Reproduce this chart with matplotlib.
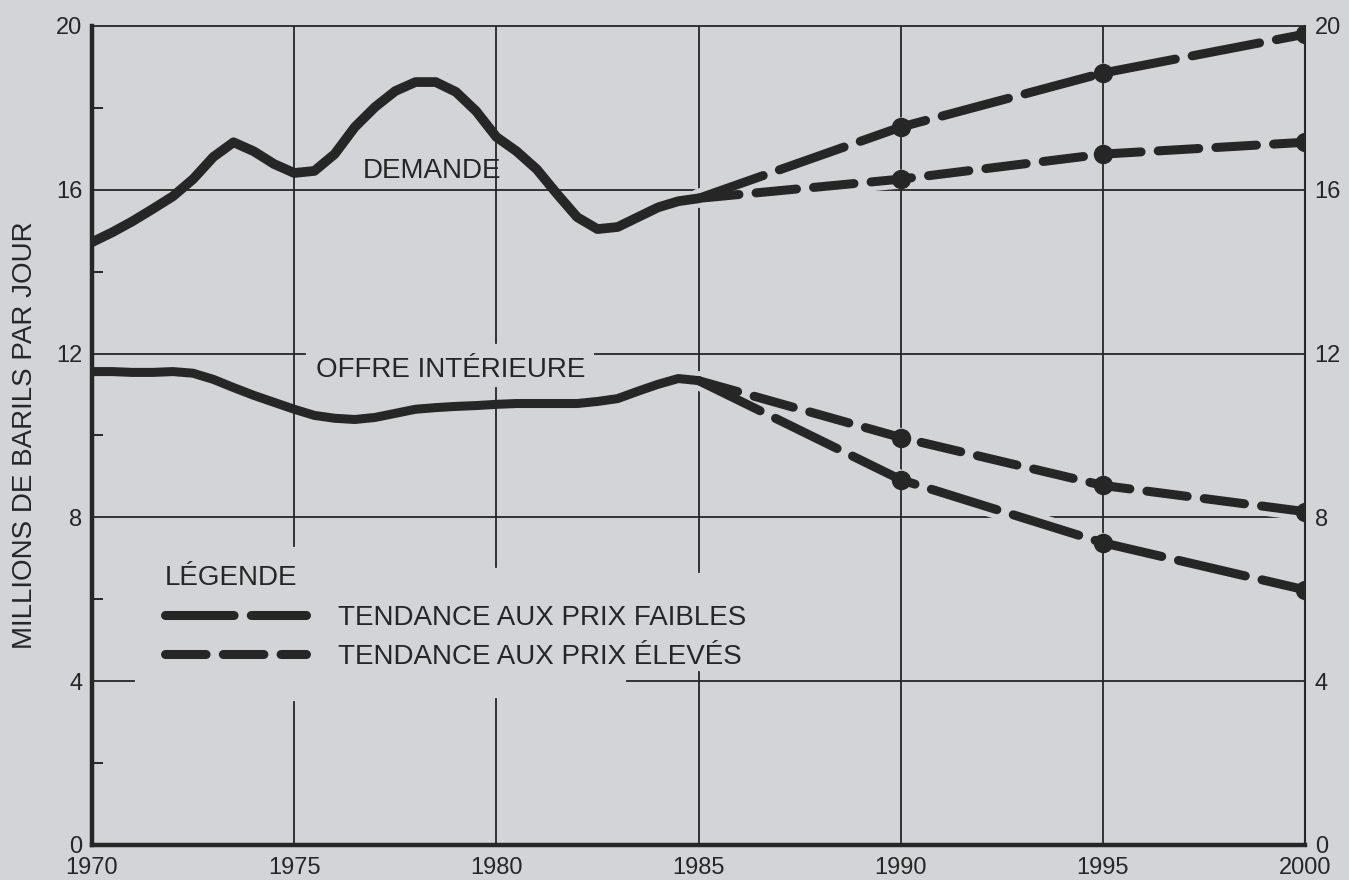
import matplotlib
matplotlib.use('Agg')
import matplotlib.pyplot as plt
from matplotlib.lines import Line2D
from matplotlib.ticker import MultipleLocator
import numpy as np

FONT = ['Liberation Sans', 'DejaVu Sans']
plt.rcParams['font.family'] = FONT

# ---------------- data ----------------
hist_years = [1970.0, 1970.5, 1971.0, 1971.5, 1972.0, 1972.5, 1973.0, 1973.5,
              1974.0, 1974.5, 1975.0, 1975.5, 1976.0, 1976.5, 1977.0, 1977.5,
              1978.0, 1978.5, 1979.0, 1979.5, 1980.0, 1980.5, 1981.0, 1981.5,
              1982.0, 1982.5, 1983.0, 1983.5, 1984.0, 1984.5, 1985.0]
demand_hist = [14.72, 14.96, 15.23, 15.53, 15.84, 16.26, 16.80, 17.16,
               16.94, 16.63, 16.41, 16.46, 16.87, 17.53, 18.02, 18.41,
               18.63, 18.63, 18.39, 17.92, 17.29, 16.94, 16.50, 15.90,
               15.33, 15.04, 15.09, 15.33, 15.57, 15.72, 15.79]
supply_hist = [11.56, 11.56, 11.54, 11.54, 11.56, 11.52, 11.37, 11.17,
               10.98, 10.81, 10.64, 10.49, 10.42, 10.39, 10.44, 10.54,
               10.64, 10.68, 10.71, 10.73, 10.76, 10.78, 10.78, 10.78,
               10.78, 10.83, 10.90, 11.08, 11.25, 11.39, 11.34]

proj_years = [1985, 1990, 1995, 2000]
demand_low_price = [15.79, 17.53, 18.85, 19.80]
demand_high_price = [15.79, 16.26, 16.87, 17.16]
supply_low_price = [11.34, 8.92, 7.38, 6.23]
supply_high_price = [11.34, 9.95, 8.78, 8.14]

x_ticks = [1970, 1975, 1980, 1985, 1990, 1995, 2000]
y_ticks = [0, 4, 8, 12, 16, 20]

y_label = 'MILLIONS DE BARILS PAR JOUR'
label_demand = 'DEMANDE'
label_supply = 'OFFRE INTÉRIEURE'
legend_title = 'LÉGENDE'
legend_low = 'TENDANCE AUX PRIX FAIBLES'
legend_high = 'TENDANCE AUX PRIX ÉLEVÉS'

# ---------------- style ----------------
BG = '#d3d4d8'
INK = '#262626'
LW = 6.5
LONG_DASH = (7.6, 1.9)
SHORT_DASH = (4.5, 1.9)
TXT = 20
TICK = 17

fig = plt.figure(figsize=(13.49, 8.80), dpi=100, facecolor=BG)
ax = fig.add_axes([0.0682, 0.0398, 0.8992, 0.9307], facecolor=BG)
ax.set_xlim(x_ticks[0], x_ticks[-1])
ax.set_ylim(y_ticks[0], y_ticks[-1])

# grid lines with the breaks seen in the original
v_gaps = {1975: [(3.5, 7.3)], 1980: [(11.17, 12.25), (3.57, 6.8)],
          1985: [(4.23, 6.67)], 1990: [], 1995: []}
for x, gaps in v_gaps.items():
    lo = y_ticks[0]
    for g0, g1 in sorted(gaps):
        ax.plot([x, x], [lo, g0], color=INK, lw=1.3, zorder=1)
        lo = g1
    ax.plot([x, x], [lo, y_ticks[-1]], color=INK, lw=1.3, zorder=1)

h_segments = {16: [(1970, 2000)], 12: [(1970, 1975.27), (1982.44, 2000)],
              8: [(1970, 2000)], 4: [(1970, 1971.04), (1983.23, 2000)]}
for y, segs in h_segments.items():
    for s0, s1 in segs:
        ax.plot([s0, s1], [y, y], color=INK, lw=1.3, zorder=1)

# historical curves
ax.plot(hist_years, demand_hist, color=INK, lw=LW + 0.5, solid_capstyle='round',
        solid_joinstyle='round', zorder=3)
ax.plot(hist_years, supply_hist, color=INK, lw=LW, solid_capstyle='round',
        solid_joinstyle='round', zorder=3)

# projections (with a background-coloured halo underneath)
projections = [(demand_low_price, LONG_DASH), (demand_high_price, SHORT_DASH),
               (supply_low_price, LONG_DASH), (supply_high_price, SHORT_DASH)]
for vals, dash in projections:
    ax.plot(proj_years, vals, color=BG, lw=LW + 7, zorder=2.5,
            solid_capstyle='round')
    ax.plot(proj_years, vals, color=INK, lw=LW, dashes=dash,
            dash_capstyle='round', zorder=3,
            marker='o', markevery=[1, 2, 3], markersize=13,
            markerfacecolor=INK, markeredgecolor=INK)

# text labels
ax.text(1976.7, 16.45, label_demand, fontsize=TXT, color=INK, va='center', ha='left')
ax.text(1975.55, 11.6, label_supply, fontsize=TXT, color=INK, va='center', ha='left')

# legend
handles = [Line2D([], [], color=INK, lw=LW, dashes=LONG_DASH, dash_capstyle='round'),
           Line2D([], [], color=INK, lw=LW, dashes=SHORT_DASH, dash_capstyle='round')]
leg = ax.legend(handles, [legend_low, legend_high], title=legend_title,
                loc='upper left', bbox_to_anchor=(0.060, 0.3415), frameon=False,
                fontsize=TXT, title_fontsize=TXT, handlelength=5.1,
                handletextpad=1.15, labelspacing=0.45, borderpad=0,
                borderaxespad=0, alignment='left')
for t in leg.get_texts():
    t.set_color(INK)
leg.get_title().set_color(INK)
leg._legend_box.sep = 10

# axes, ticks
ax.set_xticks(x_ticks)
ax.set_yticks(y_ticks)
ax.yaxis.set_minor_locator(MultipleLocator(2))
ax.tick_params(axis='x', which='major', length=0, pad=9, labelsize=TICK, labelcolor=INK)
ax.tick_params(axis='y', which='major', length=0, left=False, right=False,
               labelleft=True, labelright=True, pad=7, labelsize=TICK, labelcolor=INK)
ax.tick_params(axis='y', which='minor', direction='in', left=True, right=False,
               length=8, width=1.4, color=INK)
ax.set_ylabel(y_label, fontsize=TXT, color=INK, labelpad=13)

for side, w in (('left', 3.2), ('bottom', 3.2), ('top', 1.3), ('right', 1.5)):
    ax.spines[side].set_linewidth(w)
    ax.spines[side].set_color(INK)

fig.savefig('out.png', dpi=100, facecolor=BG)
